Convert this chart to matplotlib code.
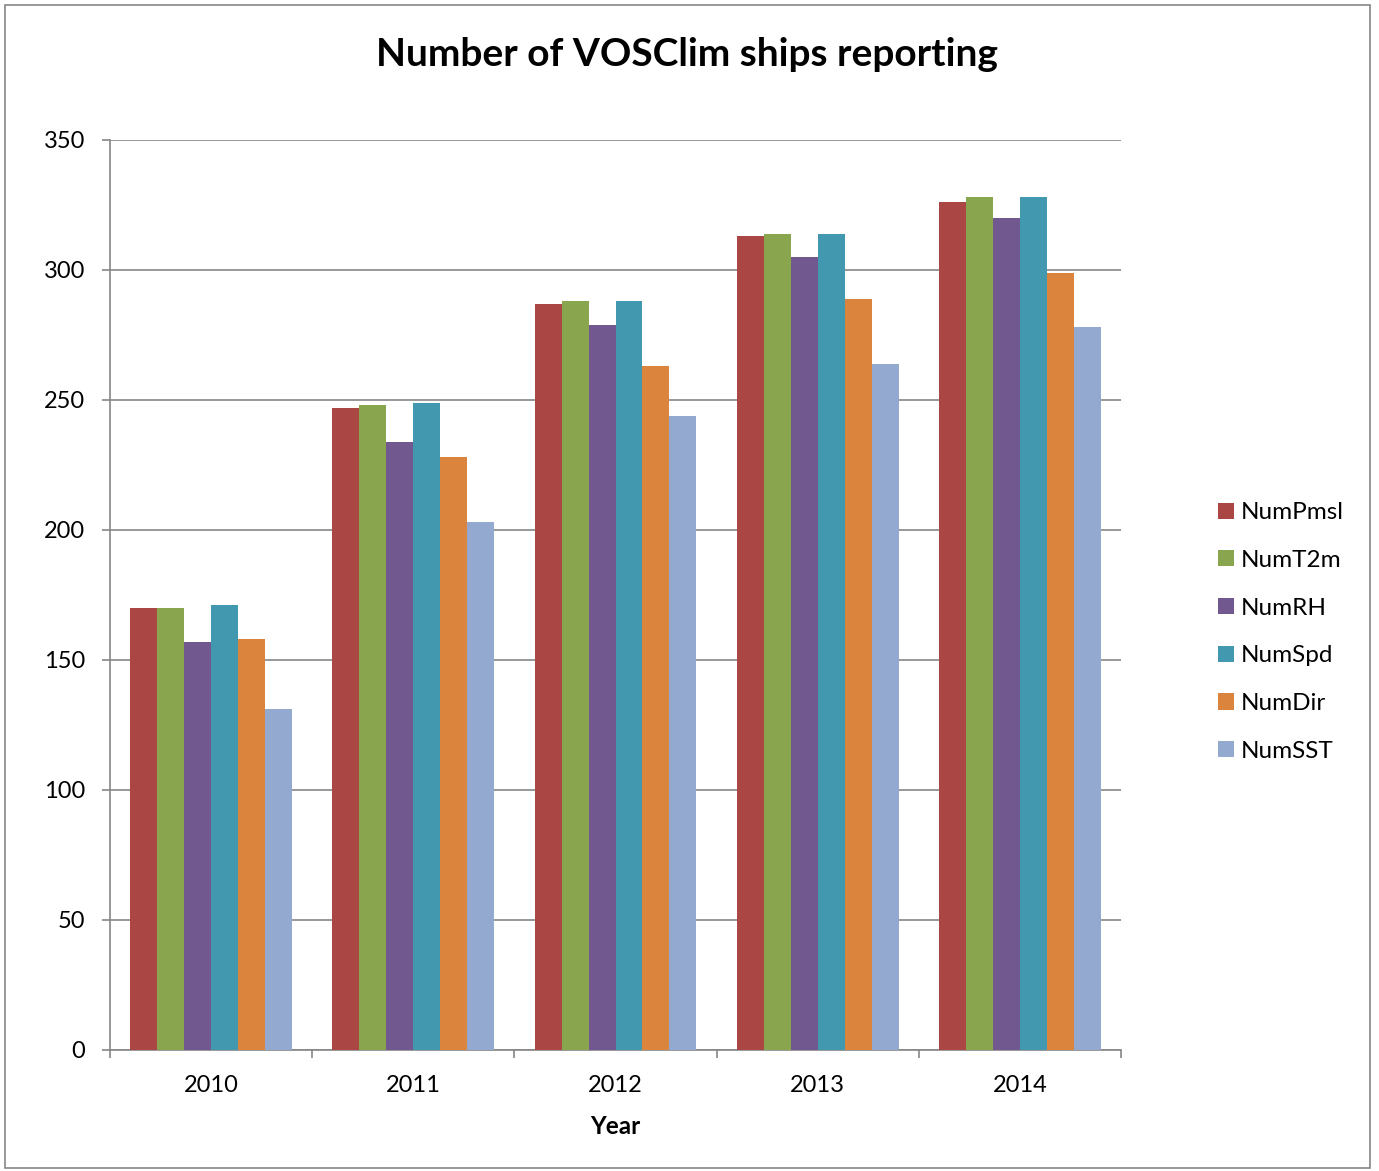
import matplotlib.pyplot as plt
import numpy as np
from matplotlib.patches import Rectangle

plt.rcParams["font.family"] = ["Lato", "DejaVu Sans"]

# Data
years = ["2010", "2011", "2012", "2013", "2014"]
series_names = ["NumPmsl", "NumT2m", "NumRH", "NumSpd", "NumDir", "NumSST"]
num_pmsl = [170, 247, 287, 313, 326]
num_t2m = [170, 248, 288, 314, 328]
num_rh = [157, 234, 279, 305, 320]
num_spd = [171, 249, 288, 314, 328]
num_dir = [158, 228, 263, 289, 299]
num_sst = [131, 203, 244, 264, 278]
colors = ["#AA4643", "#89A54E", "#71588F", "#4198AF", "#DB843D", "#93A9CF"]

series = [num_pmsl, num_t2m, num_rh, num_spd, num_dir, num_sst]

fig = plt.figure(figsize=(13.79, 11.71), dpi=100)
ax = fig.add_axes([110 / 1379, 1 - 1050 / 1171, 1011 / 1379, 910 / 1171])

# outer chart border
fig.patches.append(Rectangle((5 / 1379, 3 / 1171), 1365 / 1379, 1163 / 1171,
                             transform=fig.transFigure, fill=False,
                             edgecolor="#868686", linewidth=1.2))

x = np.arange(len(years))
width = 0.8 / len(series)
for i, (vals, name, c) in enumerate(zip(series, series_names, colors)):
    offset = (i - (len(series) - 1) / 2) * width
    ax.bar(x + offset, vals, width, color=c, label=name, zorder=3)

ax.set_xlim(-0.5, len(years) - 0.5)
ax.set_ylim(0, 350)
ax.set_yticks(range(0, 351, 50))
ax.yaxis.grid(True, color="#868686", linewidth=1.2, zorder=0)

# category ticks at group boundaries, labels centred
ax.set_xticks(np.arange(-0.5, len(years)), minor=False)
ax.set_xticklabels([])
ax.set_xticks(x, minor=True)
ax.set_xticklabels(years, minor=True)
ax.tick_params(axis="x", which="major", length=6, color="#868686", width=1.2)
ax.tick_params(axis="x", which="minor", length=0, labelsize=17, pad=18)
ax.tick_params(axis="y", length=6, color="#868686", width=1.2, labelsize=17, pad=12)

for s in ["top", "right"]:
    ax.spines[s].set_visible(False)
for s in ["left", "bottom"]:
    ax.spines[s].set_color("#868686")
    ax.spines[s].set_linewidth(1.2)

ax.set_xlabel("Year", fontsize=17.5, fontweight="bold", labelpad=14)
fig.text(687 / 1379, 1 - 55 / 1171, "Number of VOSClim ships reporting",
         ha="center", va="center", fontsize=28, fontweight="bold")

fig.legend(loc="center left", bbox_to_anchor=(1196 / 1379, 1 - 632 / 1171),
           frameon=False, fontsize=17.5, handlelength=0.65, handleheight=0.65,
           handletextpad=0.3, labelspacing=1.1)

plt.savefig("out.png", dpi=100)
